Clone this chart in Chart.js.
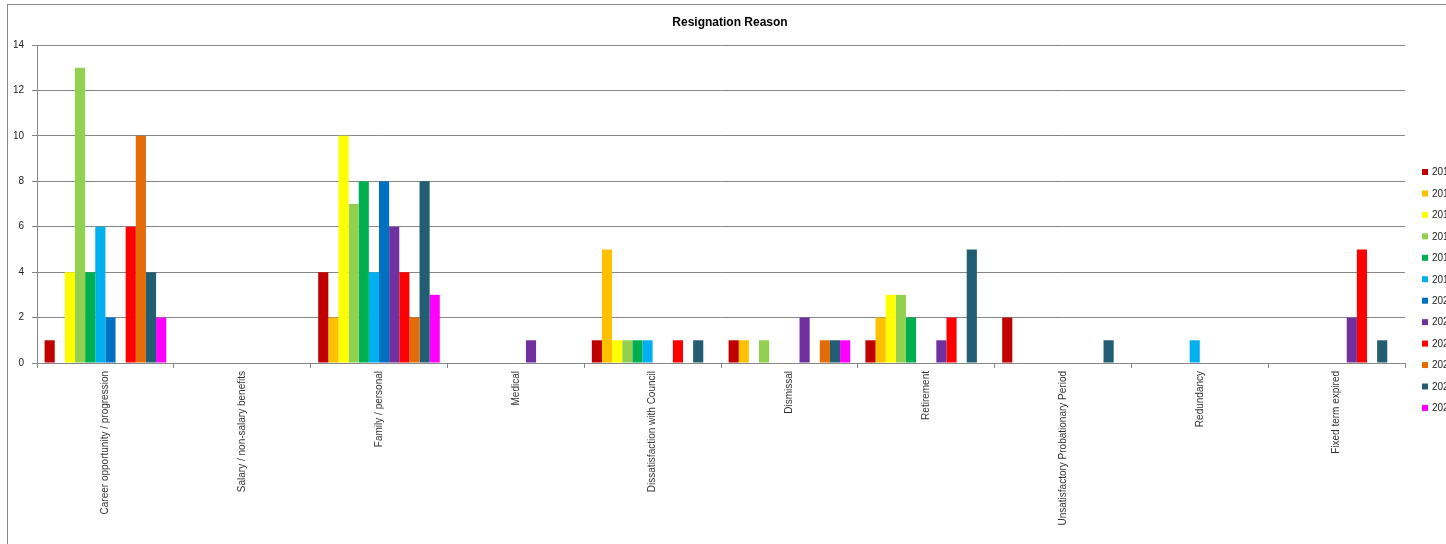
<!DOCTYPE html>
<html>
<head>
<meta charset="utf-8">
<script src="https://cdn.jsdelivr.net/npm/chart.js@4/dist/chart.umd.min.js"></script>
<style>
html,body{margin:0;padding:0;background:#fff;overflow:hidden;}
canvas{display:block;}
</style>
</head>
<body>
<canvas id="c" width="1446" height="544"></canvas>
<script>
const categories = ['Career opportunity / progression','Salary / non-salary benefits','Family / personal','Medical','Dissatisfaction with Council','Dismissal','Retirement','Unsatisfactory Probationary Period','Redundancy','Fixed term expired'];
const seriesLabels = ['2014','2015','2016','2017','2018','2019','2020','2021','2022','2023','2024','2025'];
const y2014 = [1,0,4,0,1,1,1,2,0,0];
const y2015 = [0,0,2,0,5,1,2,0,0,0];
const y2016 = [4,0,10,0,1,0,3,0,0,0];
const y2017 = [13,0,7,0,1,1,3,0,0,0];
const y2018 = [4,0,8,0,1,0,2,0,0,0];
const y2019 = [6,0,4,0,1,0,0,0,1,0];
const y2020 = [2,0,8,0,0,0,0,0,0,0];
const y2021 = [0,0,6,1,0,2,1,0,0,2];
const y2022 = [6,0,4,0,1,0,2,0,0,5];
const y2023 = [10,0,2,0,0,1,0,0,0,0];
const y2024 = [4,0,8,0,1,1,5,1,0,1];
const y2025 = [2,0,3,0,0,1,0,0,0,0];
const yTicks = [0,2,4,6,8,10,12,14];

const seriesValues = [y2014,y2015,y2016,y2017,y2018,y2019,y2020,y2021,y2022,y2023,y2024,y2025];
const colors = ['#C00000','#FFC000','#FFFF00','#92D050','#00B050','#00B0F0','#0070C0','#7030A0','#FF0000','#E36C09','#215E72','#FF00FF'];

const frame = {
  id:'frame',
  beforeDraw(chart){
    const ctx = chart.ctx;
    ctx.save();
    ctx.fillStyle='#fff';
    ctx.fillRect(0,0,chart.width,chart.height);
    ctx.strokeStyle='#8a8a8a';
    ctx.lineWidth=1;
    ctx.strokeRect(7.5,4.5,chart.width+10,chart.height+10);
    ctx.restore();
  }
};
const sideLegend = {
  id:'sideLegend',
  afterDraw(chart){
    const ctx = chart.ctx;
    ctx.save();
    ctx.font = '10px "Liberation Sans", Arial, sans-serif';
    ctx.textBaseline='middle';
    chart.data.datasets.forEach((ds,i)=>{
      const y = 172 + i*21.45;
      ctx.fillStyle = ds.backgroundColor;
      ctx.fillRect(1422, y-3, 6, 6);
      ctx.fillStyle = '#222';
      ctx.fillText(ds.label, 1432, y+0.5);
    });
    ctx.restore();
  }
};

new Chart(document.getElementById('c'), {
  type:'bar',
  data:{
    labels: categories,
    datasets: seriesValues.map((v,i)=>({label:seriesLabels[i], data:v, backgroundColor:colors[i], borderWidth:0, categoryPercentage:12/13.5, barPercentage:1}))
  },
  options:{
    responsive:false,
    animation:false,
    devicePixelRatio:1,
    layout:{padding:{left:14,right:0,top:0,bottom:0}},
    plugins:{
      legend:{display:false},
      tooltip:{enabled:false},
      title:{display:true,text:'Resignation Reason',color:'#000',font:{family:'"Liberation Sans", Arial, sans-serif',size:12,weight:'bold',lineHeight:1.2},padding:{top:15,bottom:15.6}}
    },
    scales:{
      x:{
        offset:true,
        grid:{display:true,drawOnChartArea:false,drawTicks:true,tickLength:5,color:'#868686',offset:true},
        border:{display:true,color:'#868686'},
        ticks:{autoSkip:false,maxRotation:90,minRotation:90,padding:3,color:'#333',font:{family:'"Liberation Sans", Arial, sans-serif',size:10}},
        afterFit(s){s.height=181;}
      },
      y:{
        min:0,max:14,
        afterBuildTicks(s){s.ticks = yTicks.map(v=>({value:v}));},
        grid:{color:'#868686',tickLength:5,drawTicks:true},
        border:{display:true,color:'#868686'},
        ticks:{padding:8,color:'#222',font:{family:'"Liberation Sans", Arial, sans-serif',size:10}},
        afterFit(s){s.width=23;}
      },
      yRight:{
        position:'right',
        min:0,max:14,
        grid:{display:false,drawOnChartArea:false,drawTicks:false},
        border:{display:false},
        ticks:{display:false},
        afterFit(s){s.width=41;}
      }
    }
  },
  plugins:[frame, sideLegend]
});
</script>
</body>
</html>
